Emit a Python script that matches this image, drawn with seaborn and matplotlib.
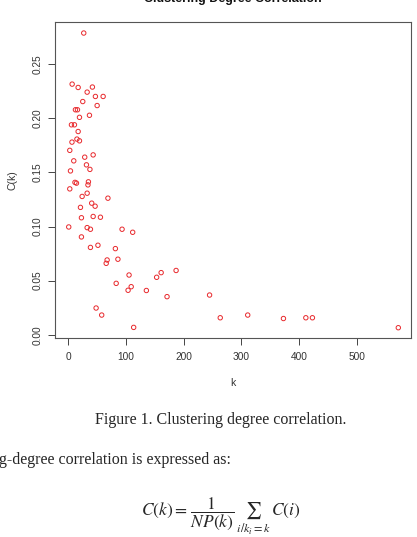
import numpy as np
import pandas as pd
import matplotlib.pyplot as plt
import seaborn as sns

sns.set_style('white')
plt.rcParams['font.family'] = ['Liberation Sans', 'DejaVu Sans']
plt.rcParams['mathtext.fontset'] = 'stix'

# degree k and clustering coefficient C(k)
k_vals = [27.0, 6.9, 17.3, 42.0, 32.9, 47.2, 60.6, 25.3, 50.2, 12.6,
          16.1, 19.6, 36.9, 5.7, 10.9, 17.3, 6.6, 15.2, 19.6, 2.8,
          9.7, 28.7, 43.3, 4.0, 31.7, 37.7, 11.8, 14.4, 35.1, 34.3,
          2.8, 24.2, 32.9, 68.9, 21.3, 40.8, 46.7, 23.0, 43.3, 55.9,
          1.0, 32.9, 38.6, 93.4, 111.8, 23.0, 38.6, 51.6, 81.8, 67.5,
          86.2, 65.9, 105.5, 153.3, 161.1, 187.0, 83.2, 109.2, 103.8, 135.5,
          171.3, 48.4, 58.1, 113.5, 245.0, 263.5, 311.1, 373.0, 411.8, 423.2,
          572.0]
c_vals = [0.2788, 0.2316, 0.2285, 0.2289, 0.2242, 0.2202, 0.2202, 0.2155, 0.2118, 0.2079,
          0.2079, 0.2009, 0.2028, 0.1940, 0.1940, 0.1878, 0.1780, 0.1808, 0.1792, 0.1704,
          0.1607, 0.1641, 0.1662, 0.1514, 0.1570, 0.1528, 0.1408, 0.1401, 0.1413, 0.1385,
          0.1348, 0.1278, 0.1308, 0.1262, 0.1177, 0.1216, 0.1188, 0.1081, 0.1093, 0.1086,
          0.0996, 0.0990, 0.0975, 0.0975, 0.0947, 0.0904, 0.0807, 0.0827, 0.0796, 0.0691,
          0.0698, 0.0660, 0.0552, 0.0531, 0.0574, 0.0594, 0.0475, 0.0444, 0.0411, 0.0409,
          0.0352, 0.0247, 0.0182, 0.0068, 0.0367, 0.0157, 0.0182, 0.0150, 0.0157, 0.0157,
          0.0065]

x_ticks = [0, 100, 200, 300, 400, 500]
y_ticks = [0.00, 0.05, 0.10, 0.15, 0.20, 0.25]
y_tick_labels = ['0.00', '0.05', '0.10', '0.15', '0.20', '0.25']

df = pd.DataFrame({'k': k_vals, 'C': c_vals})

W, H = 417, 537
fig = plt.figure(figsize=(W / 100, H / 100), dpi=100)
ax = fig.add_axes([55 / W, 1 - 338 / H, 356 / W, 316 / H])

sns.scatterplot(data=df, x='k', y='C', ax=ax, marker='o', s=10,
                facecolor='none', edgecolor='#e8282c', linewidth=0.7)

ax.set_xlim(-22.8, 594)
ax.set_ylim(-0.003, 0.289)
ax.set_xticks(x_ticks)
ax.set_yticks(y_ticks)
ax.set_yticklabels(y_tick_labels, rotation=90, va='center')
ax.tick_params(axis='both', direction='out', length=5, width=0.7, color='#444444',
               labelsize=7.3, labelcolor='#333333', left=True, bottom=True)
ax.tick_params(axis='x', pad=5)
ax.tick_params(axis='y', pad=4)
for sp in ax.spines.values():
    sp.set_visible(True)
    sp.set_color('#555555')
    sp.set_linewidth(0.8)
ax.set_xlabel('')
ax.set_ylabel('')

# axis labels and title (title is clipped by the top of the page)
fig.text(233 / W, 1 - 383 / H, 'k', ha='center', va='center', fontsize=7.5, color='#333333')
fig.text(13 / W, 1 - 180 / H, 'C(k)', ha='center', va='center', rotation=90,
         fontsize=7.5, color='#333333')
fig.text(233 / W, 1 - 2 / H, 'Clustering Degree Correlation', ha='center', va='baseline',
         fontsize=9, fontweight='bold', color='#111111')

# caption and surrounding paper text
fig.text(221 / W, 1 - 420 / H, 'Figure 1. Clustering degree correlation.', ha='center',
         va='center', fontsize=11.5, family='Liberation Serif')
fig.text(-1 / W, 1 - 460 / H, 'g-degree correlation is expressed as:', ha='left',
         va='center', fontsize=11.5, family='Liberation Serif')
fig.text(221 / W, 1 - 516 / H, r'$C(k)=\,\dfrac{1}{NP(k)}\,\sum_{i/k_i=k}\,C(i)$', ha='center',
         va='baseline', fontsize=12.5)

fig.savefig('out.png', dpi=100)
